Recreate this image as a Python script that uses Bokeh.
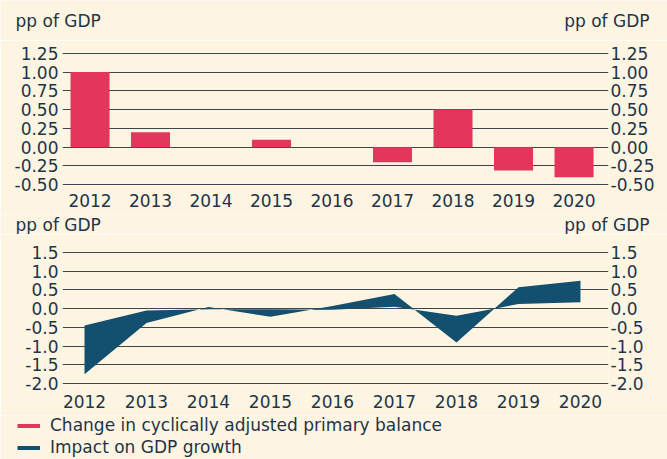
from bokeh.plotting import figure
from bokeh.models import Range1d, FixedTicker, LinearAxis, Label, Legend, LegendItem, NumeralTickFormatter
from bokeh.layouts import column
from bokeh.embed import file_html
from bokeh.resources import INLINE

# ---------------- data ----------------
years = ["2012", "2013", "2014", "2015", "2016", "2017", "2018", "2019", "2020"]
balance_change = [1.00, 0.20, 0.00, 0.10, 0.00, -0.20, 0.50, -0.31, -0.40]
impact_high = [-1.75, -0.38, 0.04, -0.22, 0.07, 0.39, -0.90, 0.57, 0.74]
impact_low = [-0.45, -0.05, -0.02, -0.02, -0.03, 0.05, -0.19, 0.12, 0.17]
top_ticks = [-0.50, -0.25, 0.00, 0.25, 0.50, 0.75, 1.00, 1.25]
bottom_ticks = [-2.0, -1.5, -1.0, -0.5, 0.0, 0.5, 1.0, 1.5]
unit_label = "pp of GDP"
legend_labels = ["Change in cyclically adjusted primary balance", "Impact on GDP growth"]

# ---------------- style ----------------
BG = "#fdf5e1"
RED = "#e3365a"
NAVY = "#13506f"
TXT = "#1f344a"
GRID = "#3c4550"
FONT = "DejaVu Sans"
FS = "17px"
W = 667

xs = list(range(len(years)))


def blank(height):
    """A plain strip whose frame is the whole canvas (for texts and legend)."""
    f = figure(width=W, height=height, min_border=0,
               x_axis_location=None, y_axis_location=None,
               x_range=Range1d(0, 1), y_range=Range1d(0, 1),
               output_backend="svg", toolbar_location=None,
               background_fill_color=BG, border_fill_color=BG,
               outline_line_color=None)
    f.frame_align = False
    f.grid.visible = False
    return f


def header(height):
    h = blank(height)
    h.add_layout(Label(x=15, y=height / 2, x_units="screen", y_units="screen",
                       text=unit_label, text_font=FONT, text_font_size=FS,
                       text_color=TXT, text_baseline="middle", text_align="left"))
    h.add_layout(Label(x=649, y=height / 2, x_units="screen", y_units="screen",
                       text=unit_label, text_font=FONT, text_font_size=FS,
                       text_color=TXT, text_baseline="middle", text_align="right"))
    return h


def style_axis(ax, standoff):
    ax.axis_line_color = None
    ax.major_tick_line_color = None
    ax.minor_tick_line_color = None
    ax.major_tick_out = 0
    ax.major_tick_in = 0
    ax.major_label_text_font = FONT
    ax.major_label_text_font_size = FS
    ax.major_label_text_color = TXT
    ax.major_label_standoff = standoff


def make_panel(x_range, y_range, ticks, fmt, top_border, bottom_border, x_standoff):
    p = figure(frame_width=546, frame_height=133,
               min_border_left=62, min_border_right=59,
               min_border_top=top_border, min_border_bottom=bottom_border,
               x_range=x_range, y_range=y_range,
               output_backend="svg", toolbar_location=None,
               background_fill_color=BG, border_fill_color=BG,
               outline_line_color=None)
    p.frame_align = False
    p.xgrid.visible = False
    p.ygrid.ticker = FixedTicker(ticks=ticks)
    p.ygrid.grid_line_color = GRID
    p.ygrid.grid_line_width = 1
    p.yaxis.ticker = FixedTicker(ticks=ticks)
    p.yaxis.formatter = NumeralTickFormatter(format=fmt)
    style_axis(p.yaxis[0], 4)
    right = LinearAxis(ticker=FixedTicker(ticks=ticks), formatter=NumeralTickFormatter(format=fmt))
    style_axis(right, 2)
    p.add_layout(right, "right")
    p.xaxis.ticker = FixedTicker(ticks=xs)
    p.xaxis.major_label_overrides = {i: y for i, y in enumerate(years)}
    style_axis(p.xaxis[0], x_standoff)
    return p


h1 = header(40)

# top panel: bars
p1 = make_panel(Range1d(-0.455, 8.57), Range1d(-0.51, 1.26), top_ticks, "0.00", 12, 29, 8)
p1.vbar(x=xs, top=balance_change, bottom=0, width=0.645, fill_color=RED, line_color=None)

h2 = header(20)

# bottom panel: band between the two impact estimates
p2 = make_panel(Range1d(-0.355, 8.452), Range1d(-2.02, 1.52), bottom_ticks, "0.0", 17, 31, 10)
p2.varea(x=xs, y1=impact_high, y2=impact_low, fill_color=NAVY)

# legend strip (hidden renderers only provide the legend swatches)
p3 = blank(44)
r_red = p3.line(x=xs, y=balance_change, line_color=RED, line_width=4, visible=False)
r_navy = p3.line(x=xs, y=impact_high, line_color=NAVY, line_width=4, visible=False)
legend = Legend(items=[LegendItem(label=legend_labels[0], renderers=[r_red]),
                       LegendItem(label=legend_labels[1], renderers=[r_navy])],
                location=(17, 2), orientation="vertical",
                glyph_width=23, glyph_height=19, label_height=19, spacing=2,
                padding=0, margin=0, label_standoff=10,
                label_text_font=FONT, label_text_font_size=FS, label_text_color=TXT,
                border_line_color=None, background_fill_alpha=0)
p3.add_layout(legend, "center")

layout = column(h1, p1, h2, p2, p3, spacing=0)

open("out.html", "w").write(file_html(layout, INLINE))
